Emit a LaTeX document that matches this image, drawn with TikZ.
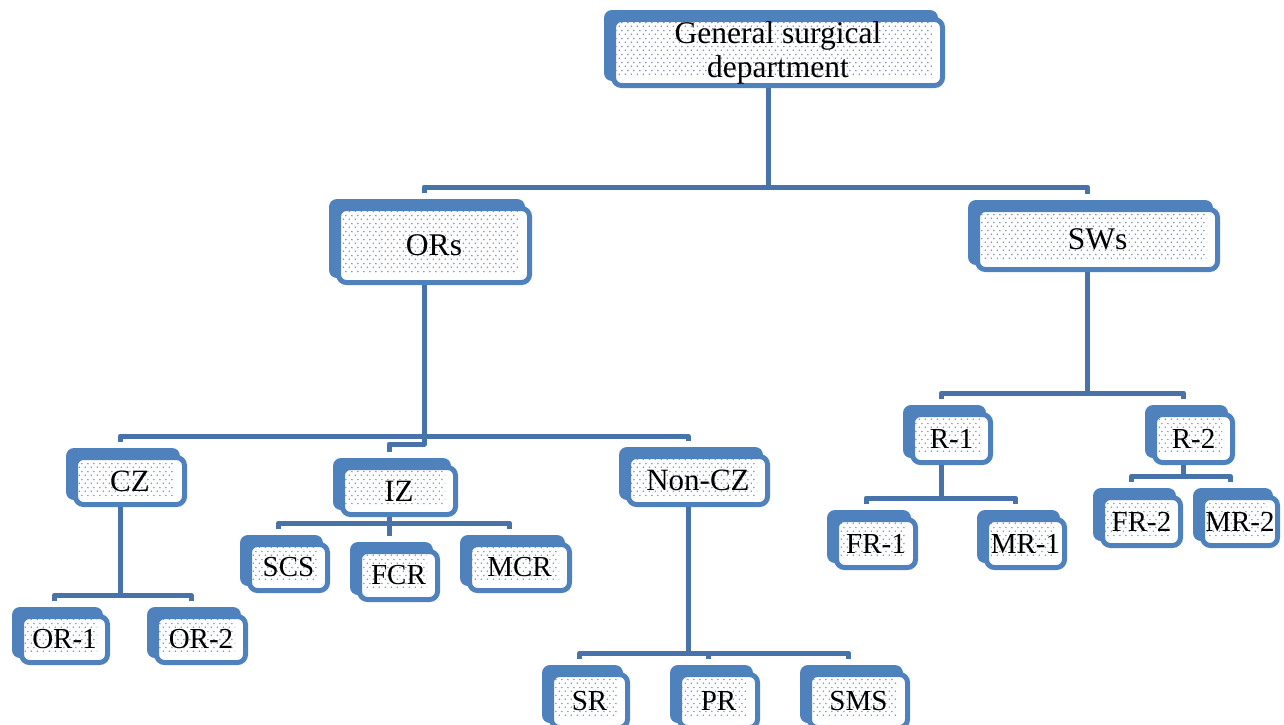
\documentclass[tikz,border=0pt]{standalone}
\usepackage{fontspec}
\setmainfont{Liberation Serif}
\usetikzlibrary{patterns.meta}
\definecolor{boxblue}{RGB}{79,129,189}
\definecolor{lineblue}{RGB}{72,114,170}
\definecolor{dotblue}{RGB}{110,145,200}
\pgfdeclarelayer{backl}
\pgfdeclarelayer{whitel}
\pgfdeclarelayer{dotl}
\pgfsetlayers{backl,whitel,dotl,main}
\tikzdeclarepattern{
  name=sdots,
  type=uncolored,
  bounding box={(0pt,0pt) and (6pt,8pt)},
  tile size={(6pt,8pt)},
  code={
    \pgfpathcircle{\pgfqpoint{1.5pt}{2pt}}{0.95pt}
    \pgfpathcircle{\pgfqpoint{4.5pt}{6pt}}{0.95pt}
    \pgfusepath{fill}
  }
}
\tikzset{
  fbox/.style={draw=boxblue, line width=5pt, rounded corners=8pt, inner sep=0pt,
    align=center, font=\fontsize{29}{33}\selectfont},
  bigtxt/.style={font=\fontsize{31.5}{34}\selectfont},
  midtxt/.style={font=\fontsize{31}{33}\selectfont},
  conn/.style={draw=lineblue, line width=5pt, line join=round}
}
\newcommand{\orgbox}[7][]{%
  \begin{pgfonlayer}{backl}
    \fill[boxblue, rounded corners=8pt] ({#3-7},{#4-7}) rectangle ({#5-7},{#6-7});
  \end{pgfonlayer}
  \begin{pgfonlayer}{whitel}
    \fill[white, rounded corners=8pt] ({#3+2},{#4+2}) rectangle ({#5-2},{#6-2});
  \end{pgfonlayer}
  \begin{pgfonlayer}{dotl}
    \fill[pattern=sdots, pattern color=dotblue] ({#3+4},{#4+4}) rectangle ({#5-13},{#6-12});
  \end{pgfonlayer}
  \node[fbox, #1, minimum width={(#5-#3-5)*1pt}, minimum height={(#6-#4-5)*1pt}] (#2)
    at ({(#3+#5)/2},{(#4+#6)/2}) {#7};
}
\begin{document}
\begin{tikzpicture}[x=1pt,y=-1pt]
\clip (0,0) rectangle (1284,724);
\begin{pgfonlayer}{backl}
\fill[white] (0,0) rectangle (1284,724);
\end{pgfonlayer}
% boxes (front box: x1,y1,x2,y2)
\orgbox[bigtxt]{gen}{611}{17}{945}{88}{General surgical\\department}
\orgbox[bigtxt]{ors}{336}{206}{532}{285}{ORs}
\orgbox[bigtxt]{sws}{975}{207}{1220}{272}{SWs}
\orgbox[midtxt]{cz}{73}{455}{187}{507}{CZ}
\orgbox[midtxt]{iz}{340}{465}{458}{517}{IZ}
\orgbox[midtxt]{noncz}{626}{454}{770}{507}{Non-CZ}
\orgbox{scs}{247}{542}{330}{593}{SCS}
\orgbox{fcr}{357}{549}{440}{602}{FCR}
\orgbox{mcr}{467}{542}{572}{593}{MCR}
\orgbox{or1}{19}{614}{110}{665}{OR-1}
\orgbox{or2}{154}{614}{248}{665}{OR-2}
\orgbox{sr}{549}{672}{630}{730}{SR}
\orgbox{pr}{677}{672}{760}{730}{PR}
\orgbox{sms}{807}{672}{910}{730}{SMS}
\orgbox{r1}{910}{412}{993}{465}{R-1}
\orgbox{r2}{1152}{412}{1235}{465}{R-2}
\orgbox{fr1}{834}{517}{918}{570}{FR-1}
\orgbox{mr1}{984}{517}{1067}{570}{MR-1}
\orgbox{fr2}{1100}{495}{1183}{548}{FR-2}
\orgbox{mr2}{1200}{495}{1280}{548}{MR-2}
% connector anchor points
\coordinate (genb) at ([xshift=-10pt]gen.south);
\coordinate (orsb) at ([xshift=-10pt]ors.south);
\coordinate (swsb) at ([xshift=-10pt]sws.south);
\coordinate (czb) at ([xshift=-10pt]cz.south);
\coordinate (izb) at ([xshift=-10pt]iz.south);
\coordinate (nonczb) at ([xshift=-10pt]noncz.south);
\coordinate (r1b) at ([xshift=-10pt]r1.south);
\coordinate (r2b) at ([xshift=-10pt]r2.south);
\coordinate (fcrt) at ([shift={(-10pt,13pt)}]fcr.north);
\coordinate (prt) at ([shift={(-10pt,13pt)}]pr.north);
% top level
\draw[conn] ([shift={(-10pt,13pt)}]ors.north) -- ++(0,-6) coordinate (bus1) -| ([shift={(-10pt,13pt)}]sws.north);
\draw[conn] (genb) -- (genb |- bus1);
% ORs level
\draw[conn] ([shift={(-10pt,13pt)}]cz.north) -- ++(0,-6) coordinate (bus2) -| ([shift={(-10pt,13pt)}]noncz.north);
\draw[conn] (orsb) -- ++(0,159) -| ([shift={(-10pt,13pt)}]iz.north);
% CZ level
\draw[conn] ([shift={(-10pt,13pt)}]or1.north) -- ++(0,-6) coordinate (bus3) -| ([shift={(-10pt,13pt)}]or2.north);
\draw[conn] (czb) -- (czb |- bus3);
% IZ level
\draw[conn] ([shift={(-10pt,13pt)}]scs.north) -- ++(0,-6) coordinate (bus4) -| ([shift={(-10pt,13pt)}]mcr.north);
\draw[conn] (izb) -- (izb |- fcrt);
% Non-CZ level
\draw[conn] ([shift={(-10pt,13pt)}]sr.north) -- ++(0,-6) coordinate (bus5) -| ([shift={(-10pt,13pt)}]sms.north);
\draw[conn] (nonczb) -- (nonczb |- bus5);
\draw[conn] (prt |- bus5) -- (prt);
% SWs level
\draw[conn] ([shift={(-10pt,13pt)}]r1.north) -- ++(0,-6) coordinate (bus6) -| ([shift={(-10pt,13pt)}]r2.north);
\draw[conn] (swsb) -- (swsb |- bus6);
% R-1 level
\draw[conn] ([shift={(-10pt,13pt)}]fr1.north) -- ++(0,-6) coordinate (bus7) -| ([shift={(-10pt,13pt)}]mr1.north);
\draw[conn] (r1b) -- (r1b |- bus7);
% R-2 level
\draw[conn] ([shift={(-10pt,13pt)}]fr2.north) -- ++(0,-6) coordinate (bus8) -| ([shift={(-10pt,13pt)}]mr2.north);
\draw[conn] (r2b) -- (r2b |- bus8);
\end{tikzpicture}
\end{document}
